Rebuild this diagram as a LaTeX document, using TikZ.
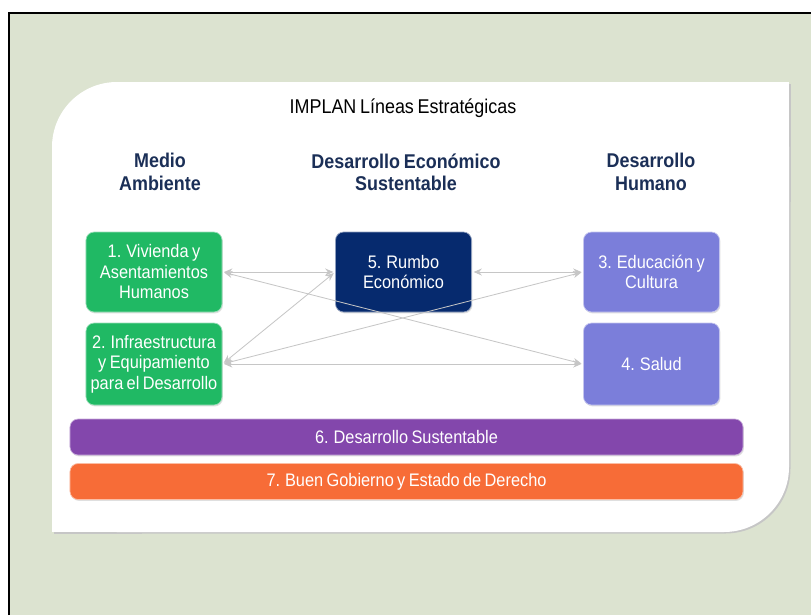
\documentclass[tikz,border=0pt]{standalone}
\usepackage{fontspec}
\setmainfont{Liberation Sans}[FakeStretch=0.9,WordSpace=0.75]
\usetikzlibrary{arrows.meta,shadows}

\definecolor{fondo}{HTML}{DCE3D0}
\definecolor{verde}{HTML}{20B964}
\definecolor{marino}{HTML}{062A6E}
\definecolor{lila}{HTML}{7B7EDA}
\definecolor{morado}{HTML}{8347AC}
\definecolor{naranja}{HTML}{F76C37}
\definecolor{tinta}{HTML}{1B2F57}

\tikzset{
	caja/.style={fill=#1, draw=white!55!#1, line width=0.6pt, rounded corners=7pt,
		text=white, align=center, font=\fontsize{15.5}{17.5}\selectfont,
		minimum width=4.08cm, minimum height=2.4cm, inner sep=1pt,
		drop shadow={opacity=0.25, shadow xshift=0.8pt, shadow yshift=-1.2pt}},
	barra/.style={caja=#1, minimum width=20.19cm, minimum height=1.08cm},
	cabeza/.style={font=\bfseries\fontsize{17}{19}\selectfont, text=tinta, align=center},
	flecha/.style={<->, >={Stealth[length=7pt,width=6pt]},
		gray!45, line width=0.7pt, shorten <=1.5pt, shorten >=1.5pt}
}

\begin{document}
\begin{tikzpicture}[x=0.03cm,y=-0.03cm]
	\useasboundingbox (0,0) rectangle (811,615);
	% fondo y marco
	\fill[fondo] (9,13) rectangle (811,615);
	\draw[line width=1.2pt] (9,615) -- (9,13) -- (811,13);
	% panel blanco
	\begin{scope}[shift={(1.5,1.5)}]
		\fill[gray!45, rounded corners=1.95cm] (52,82) rectangle (789,532);
		\fill[gray!45] (700,82) rectangle (789,200);
		\fill[gray!45] (52,450) rectangle (140,532);
	\end{scope}
	\fill[white, rounded corners=1.95cm] (52,82) rectangle (789,532);
	\fill[white] (700,82) rectangle (789,200);
	\fill[white] (52,450) rectangle (140,532);

	\node (titulo) at (403,108) {\fontsize{17}{19}\selectfont IMPLAN Líneas Estratégicas};
	\node[cabeza] (medio) at (160,172) {Medio\\Ambiente};
	\node[cabeza] (econ) at (406,172) {Desarrollo Económico\\Sustentable};
	\node[cabeza] (humano) at (651,172) {Desarrollo\\Humano};

	\node[caja=verde] (viv) at (154,272) {1. Vivienda y\\Asentamientos\\Humanos};
	\node[caja=verde, minimum height=2.46cm] (inf) at (154,364) {2. Infraestructura\\y Equipamiento\\para el Desarrollo};
	\node[caja=marino] (rum) at (403.5,272) {5. Rumbo\\Económico};
	\node[caja=lila] (edu) at (651.5,272) {3. Educación y\\Cultura};
	\node[caja=lila, minimum height=2.46cm] (sal) at (651.5,364) {4. Salud};

	\node[barra=morado] (sus) at (406.5,437) {6. Desarrollo Sustentable};
	\node[barra=naranja] (gob) at (406.5,481.5) {7. Buen Gobierno y Estado de Derecho};

	\draw[flecha] (viv.east) -- (rum.west);
	\draw[flecha] (rum.east) -- (edu.west);
	\draw[flecha] (inf.east) -- (sal.west);
	\draw[flecha] (viv.east) -- (sal.west);
	\draw[flecha] (inf.east) -- (rum.west);
	\draw[flecha] (inf.east) -- (edu.west);
\end{tikzpicture}
\end{document}
